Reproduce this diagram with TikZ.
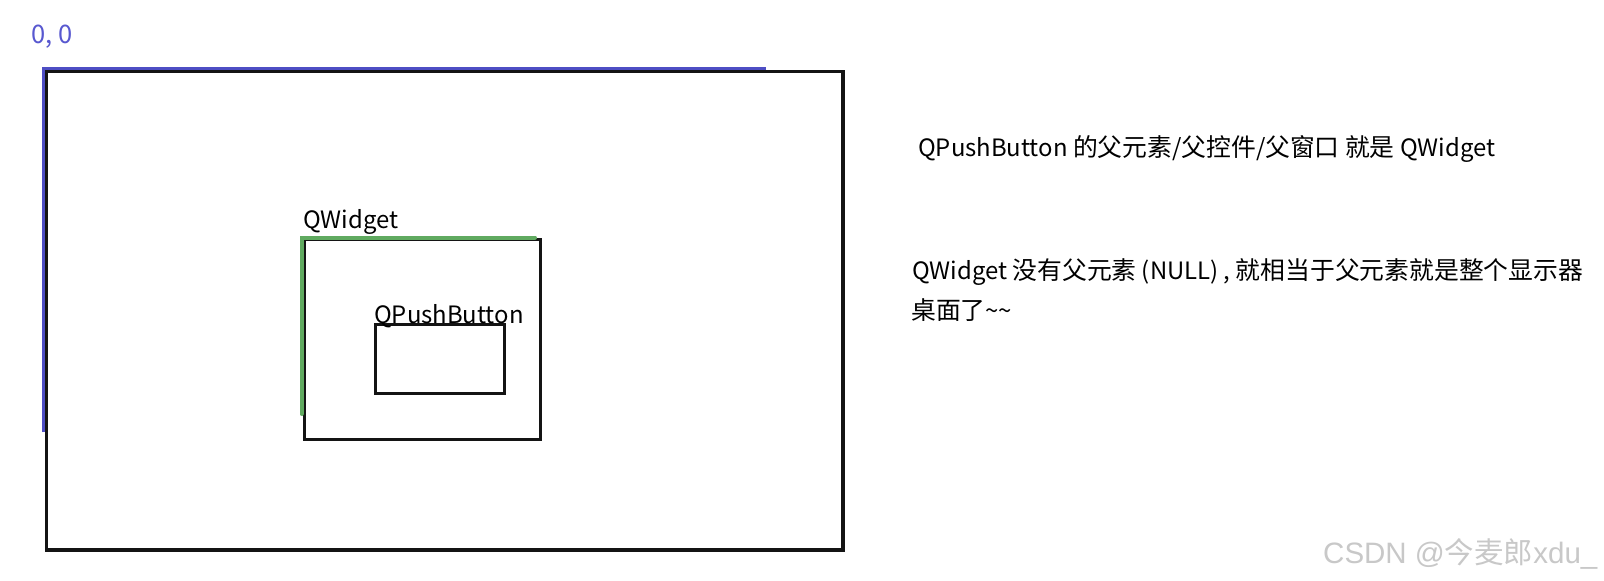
\documentclass[tikz,border=0pt]{standalone}
\usepackage{fontspec}
\newfontfamily\cjk{Noto Sans CJK SC}
\newfontfamily\arialfont{Liberation Sans}
\newcommand\zh[1]{{\fontsize{24.8}{30}\selectfont #1}}
\definecolor{axisblue}{RGB}{78,78,196}
\definecolor{labelblue}{RGB}{88,88,208}
\definecolor{parentgreen}{RGB}{96,170,96}
\definecolor{wmgray}{RGB}{200,200,200}
\begin{document}
\begin{tikzpicture}[x=1pt,y=-1pt,
  txt/.style={inner sep=0pt,anchor=base west,font=\cjk\fontsize{23.9}{30}\selectfont,text=black},
  frame/.style={draw=black!92,line width=3.5pt},
  hiline/.style={line width=3.5pt}]
\useasboundingbox[fill=white] (0,0) rectangle (1604,581);
% outer window (desktop)
\draw[frame] (46.5,71.5) rectangle (843,550);
\coordinate (bl) at (43.5,432);
\coordinate (tl) at (43.5,68.5);
\coordinate (tr) at (766,68.5);
\draw[hiline,draw=axisblue] (bl) -- (tl) -- (tr);
\node[txt,text=labelblue,font=\cjk\fontsize{25.5}{30}\selectfont] (origin) at (31,43) {0, 0};
% QWidget
\draw[frame,line width=3pt] (304,239.5) rectangle (540,439);
\coordinate (gbl) at (301.5,414);
\coordinate (gtl) at (301.5,237.5);
\coordinate (gtr) at (535,237.5);
\draw[hiline,draw=parentgreen,line width=4pt,line cap=round] (gbl) -- (gtl) -- (gtr);
\node[txt] (qwidget) at (303,228) {QWidget};
% QPushButton
\draw[frame,line width=3pt] (375.5,324.5) rectangle (504.5,393.5);
\node[txt] (qpb) at (374,323) {QPushButton};
% explanations
\node[txt] (l1) at (918,156) {QPushButton \zh{的父元素}/\zh{父控件}/\zh{父窗口} \zh{就是} QWidget};
\node[txt] (l2) at (912,279) {QWidget \zh{没有父元素} (NULL) , \zh{就相当于父元素就是整个显示器}};
\node[txt] (l3) at (911,319) {\zh{桌面了}\textasciitilde\textasciitilde};
% watermark
\node[txt,text=wmgray,font=\arialfont\fontsize{29.5}{30}\selectfont] (wm) at (1323,563) {CSDN @{\cjk 今麦郎}xdu\_};
\end{tikzpicture}
\end{document}
